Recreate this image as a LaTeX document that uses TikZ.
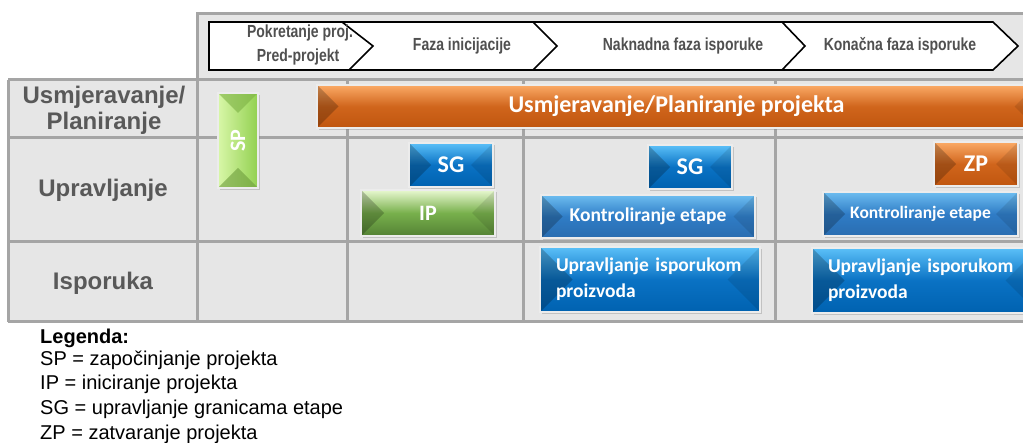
\documentclass[tikz,border=0pt]{standalone}
\usepackage{fontspec}
\setmainfont{Liberation Sans}
\newfontfamily\calib{Carlito}
\newfontfamily\condf[FakeStretch=0.8]{Liberation Sans}
\usetikzlibrary{shadows,calc}
\definecolor{gridln}{HTML}{A5A5A5}
\definecolor{cellbg}{HTML}{E6E6E6}
\definecolor{labtxt}{HTML}{595959}
\definecolor{bluetop}{HTML}{5BC0F8}
\definecolor{bluemid}{HTML}{0A72C4}
\definecolor{bluebot}{HTML}{0062B0}
\definecolor{ketop}{HTML}{6DBDF0}
\definecolor{kemid}{HTML}{2F7CC6}
\definecolor{kebot}{HTML}{2A6DB0}
\definecolor{orgtop}{HTML}{FBAA66}
\definecolor{orgmid}{HTML}{D0651C}
\definecolor{orgbot}{HTML}{C0560F}
\definecolor{grntop}{HTML}{E8F8D0}
\definecolor{grnmid}{HTML}{78B04C}
\definecolor{grnbot}{HTML}{548235}
\definecolor{spl}{HTML}{D8F7A8}
\definecolor{spr}{HTML}{92D050}
\tikzset{
  gline/.style={draw=gridln, line width=3pt},
  rowlab/.style={font=\bfseries\fontsize{24}{26}\selectfont, text=labtxt, align=center},
  phase/.style={font=\condf\bfseries\fontsize{17.5}{20}\selectfont, text=labtxt!90!black},
  legtxt/.style={font=\fontsize{20}{24}\selectfont, text=black, anchor=base west, inner sep=0pt},
  bevh/.style={path picture={
    \fill[black,opacity=0.22] let \p1=(path picture bounding box.south west), \p2=(path picture bounding box.north east), \n1={(\y2-\y1)/2} in (\x1,\y1) -- ++({\n1*1pt},{\n1*1pt}) -- (\x1,\y2) -- cycle;
    \fill[black,opacity=0.10] let \p1=(path picture bounding box.south west), \p2=(path picture bounding box.north east), \n1={(\y2-\y1)/2} in (\x2,\y1) -- ++({-\n1*1pt},{\n1*1pt}) -- (\x2,\y2) -- cycle;
  }},
  bevv/.style={path picture={
    \fill[spr!85!black,opacity=0.6] let \p1=(path picture bounding box.south west), \p2=(path picture bounding box.north east), \n1={(\x2-\x1)/2} in (\x1,\y2) -- ++({\n1*1pt},{-\n1*1pt}) -- (\x2,\y2) -- cycle;
    \fill[spr!75!black,opacity=0.6] let \p1=(path picture bounding box.south west), \p2=(path picture bounding box.north east), \n1={(\x2-\x1)/2} in (\x1,\y1) -- ++({\n1*1pt},{\n1*1pt}) -- (\x2,\y1) -- cycle;
  }},
  box/.style={draw=white!85!gray, line width=1.5pt, text=white, font=\calib\bfseries, inner sep=0pt,
    drop shadow={opacity=0.35, shadow xshift=1.5pt, shadow yshift=-2pt}},
  bluebox/.style={box, top color=bluetop, bottom color=bluebot, middle color=bluemid, bevh},
  kebox/.style={box, top color=ketop, bottom color=kebot, middle color=kemid, bevh},
  orgbox/.style={box, top color=orgtop, bottom color=orgbot, middle color=orgmid, bevh},
  grnbox/.style={box, top color=grntop, bottom color=grnbot, middle color=grnmid, bevh},
  spbox/.style={box, left color=spl, right color=spr, bevv},
  fs/.style={font=\calib\bfseries\fontsize{#1}{#1}\selectfont},
  uipbox/.style={bluebox, font=\calib\bfseries\fontsize{19.5}{26}\selectfont, minimum height=65pt, inner xsep=16pt, align=left},
}
\begin{document}
\begin{tikzpicture}[x=1pt,y=-1pt]
\useasboundingbox (0,0) rectangle (1023,443);
% backgrounds
\fill[cellbg] (197,14) rectangle (1040,80);
\fill[cellbg] (8,80) rectangle (1040,322);
% grid
\draw[gline] (1040,14) -- (197,14) -- (197,322);
\draw[gline] (8,80) -- (1040,80);
\draw[gline] (8,138) -- (1040,138);
\draw[gline] (8,242) -- (1040,242);
\draw[gline] (8,322) -- (1040,322);
\draw[gline] (8,80) -- (8,322);
\draw[gline] (347,80) -- (347,322);
\draw[gline] (523,80) -- (523,322);
\draw[gline] (775,80) -- (775,322);
% phase bar
\draw[line width=1.6pt, fill=white] (209,22) -- (993,22) -- (1018,46) -- (993,70) -- (209,70) -- cycle;
\draw[line width=1.6pt] (342,22) -- (373,46) -- (349,70);
\draw[line width=1.6pt] (533,22) -- (557,46) -- (533,70);
\draw[line width=1.6pt] (782,22) -- (805,46) -- (782,70);
\node[phase] (p1a) at (300,33) {Pokretanje proj.};
\node[phase] (p1b) at (298,57) {Pred-projekt};
\node[phase] (p2) at (462,46) {Faza inicijacije};
\node[phase] (p3) at (683,46) {Naknadna faza isporuke};
\node[phase] (p4) at (900,46) {Konačna faza isporuke};
% row labels
\node[rowlab] (l1) at (104,110) {Usmjeravanje/\\Planiranje};
\node[rowlab] (l2) at (103,190) {Upravljanje};
\node[rowlab] (l3) at (103,283) {Isporuka};
% boxes
\node[orgbox, fs=24, minimum width=719pt, minimum height=43pt] (plan) at (676.5,106.5) {Usmjeravanje/Planiranje projekta};
\node[spbox, fs=22, minimum width=40pt, minimum height=95pt] (sp) at (238,140.5) {\rotatebox{90}{SP}};
\node[bluebox, fs=24, minimum width=84pt, minimum height=44pt] (sg1) at (451,165) {SG};
\node[grnbox, fs=22, minimum width=134pt, minimum height=46pt] (ip) at (428,213) {IP};
\node[bluebox, fs=24, minimum width=84pt, minimum height=44pt] (sg2) at (690,167) {SG};
\node[kebox, fs=19.5, minimum width=214pt, minimum height=43pt] (ke1) at (648,216.5) {Kontroliranje etape};
\node[orgbox, fs=24, minimum width=84pt, minimum height=44pt] (zp) at (976,164) {ZP};
\node[kebox, fs=17.5, minimum width=195pt, minimum height=44pt] (ke2) at (920.5,214) {Kontroliranje etape};
\node[uipbox, minimum width=220pt, text width=188pt] (uip1) at (650,279.5) {Upravljanje isporukom\\proizvoda};
\node[uipbox, minimum width=226pt, text width=194pt] (uip2) at (925,280.5) {Upravljanje isporukom\\proizvoda};
% legend
\node[legtxt, font=\bfseries\fontsize{20}{24}\selectfont] (lg0) at (40,344) {Legenda:};
\node[legtxt] (lg1) at (40,366) {SP = započinjanje projekta};
\node[legtxt] (lg2) at (40,390) {IP = iniciranje projekta};
\node[legtxt] (lg3) at (40,415) {SG = upravljanje granicama etape};
\node[legtxt] (lg4) at (40,439) {ZP = zatvaranje projekta};
\end{tikzpicture}
\end{document}
